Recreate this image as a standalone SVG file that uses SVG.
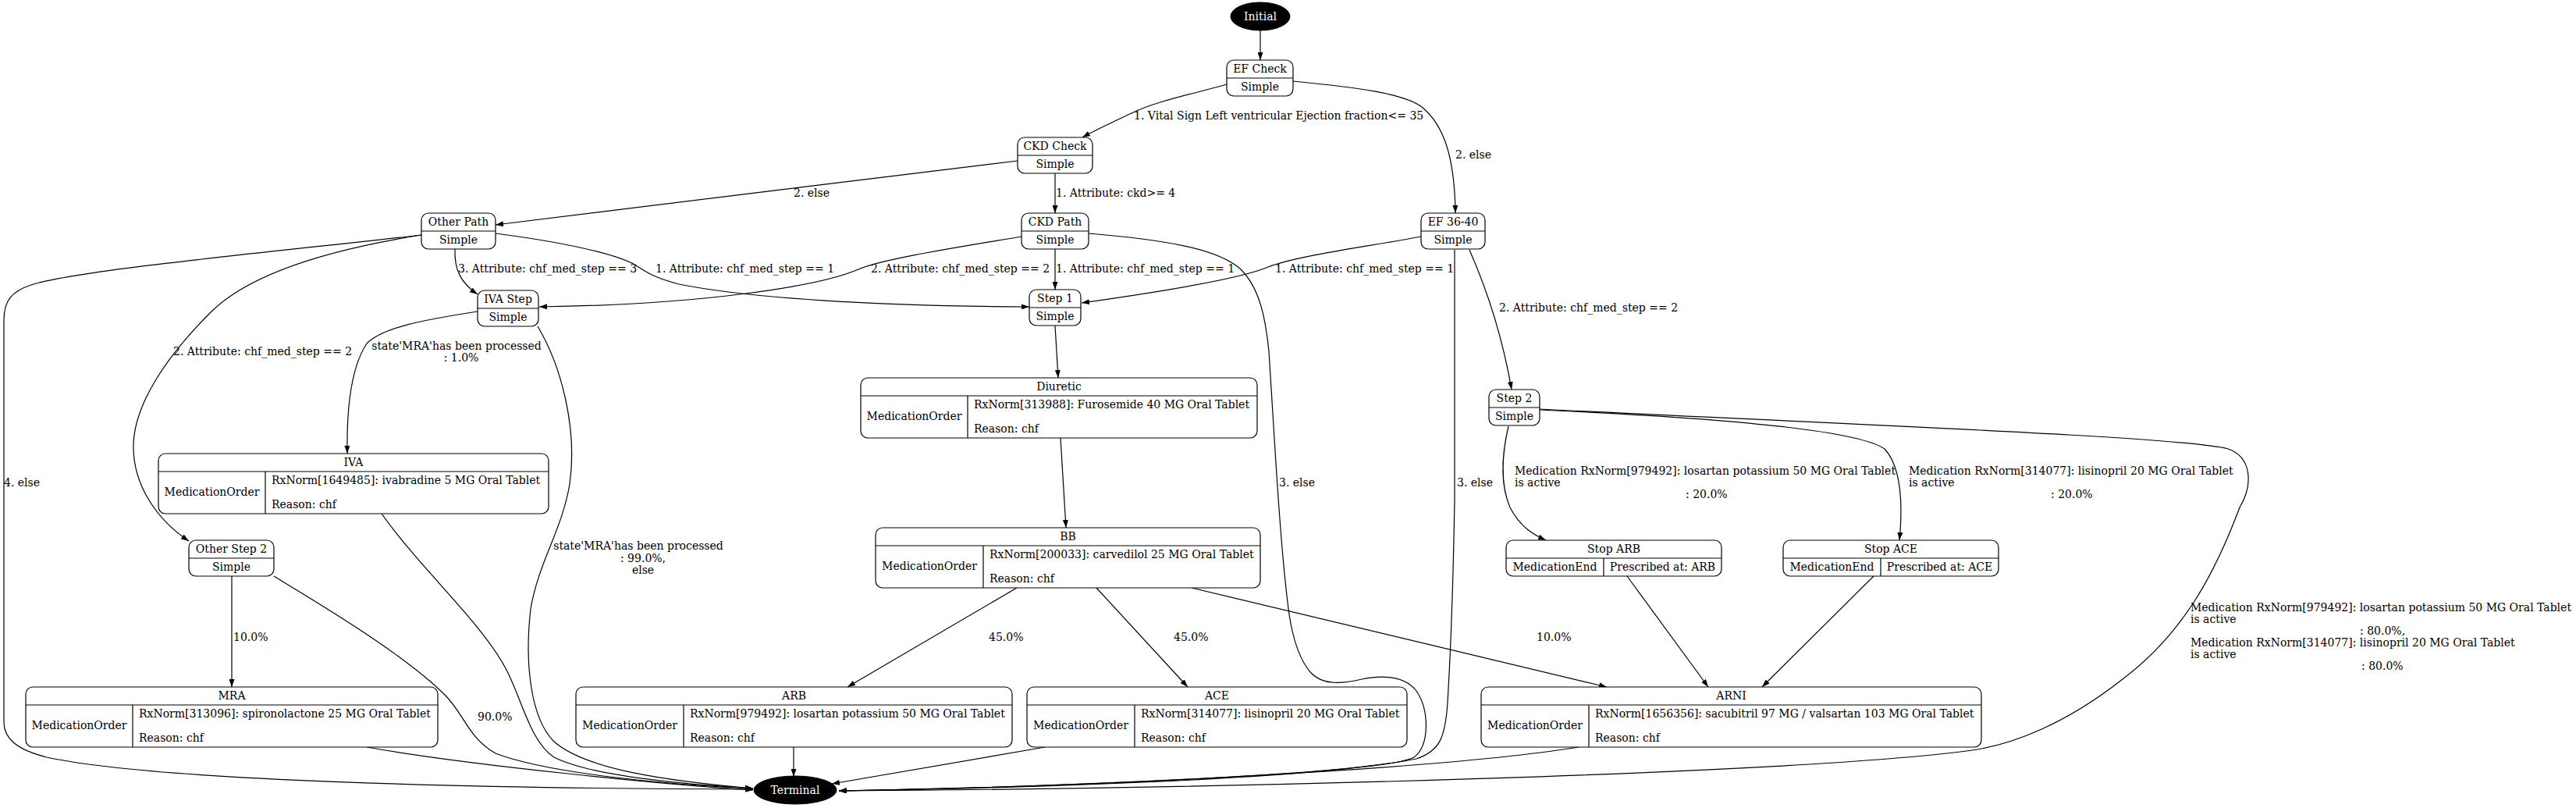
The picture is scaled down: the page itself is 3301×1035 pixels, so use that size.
<svg xmlns="http://www.w3.org/2000/svg" width="3301" height="1035" viewBox="0 0 3301 1035">
<style>
text { font-family: "DejaVu Serif", "Liberation Serif", serif; font-size: 14px; fill: #000; }
.c { text-anchor: middle; }
.w { fill: #fff; }
.n rect { fill: #fff; stroke: #000; stroke-width: 1.2; }
.n line { stroke: #000; stroke-width: 1.2; }
.n ellipse { fill: #000; stroke: #000; }
.e path { fill: none; stroke: #000; stroke-width: 1.2; marker-end: url(#arr); }
</style>
<defs>
<marker id="arr" viewBox="0 0 10 7" refX="10" refY="3.5" markerWidth="10" markerHeight="7" markerUnits="userSpaceOnUse" orient="auto">
<path d="M0,0 L10,3.5 L0,7 z" fill="#000"/>
</marker>
</defs>
<rect width="3301" height="1035" fill="#fff"/>

<g id="edges" class="e">
<path d="M1615,39 L1615,77"/>
<path d="M1572,108 C1530,120 1480,130 1450,145 C1425,157 1405,166 1387,176"/>
<path d="M1657,104 C1740,112 1800,120 1822,137 C1850,160 1864,200 1865,273"/>
<path d="M1352,222 L1352,273"/>
<path d="M1304,206 C1100,230 850,262 635,288"/>
<path d="M1352,319 L1352,371"/>
<path d="M1309,303 C1220,318 1130,332 1100,345 C1070,358 1020,368 948,377 C860,388 770,392 691,393"/>
<path d="M1395,299 C1490,307 1560,318 1590,345 C1615,370 1622,410 1626,450 C1632,540 1640,700 1652,787 C1657,820 1665,845 1680,862 C1695,878 1720,876 1745,870 C1775,864 1800,866 1815,885 C1832,910 1832,955 1812,970 C1780,988 1450,1006 1075,1013"/>
<path d="M1821,303 C1740,318 1660,328 1625,342 C1595,355 1500,372 1386,388"/>
<path d="M1864,320 L1864,640 C1862,760 1858,850 1855,900 C1852,945 1845,962 1815,972 C1700,995 1400,1008 1075,1013"/>
<path d="M1883,320 C1905,370 1925,430 1937,499"/>
<path d="M635,299 C720,310 790,325 815,340 C830,350 840,356 870,364 C960,382 1120,392 1319,393"/>
<path d="M583,319 C582,345 590,362 612,377"/>
<path d="M540,301 C420,320 320,350 270,400 C210,460 172,520 171,570 C170,620 200,665 242,693"/>
<path d="M540,301 C380,320 100,345 40,365 C15,373 5,385 5,410 L5,925 C5,945 20,960 60,970 C200,1000 600,1010 965,1011"/>
<path d="M612,399 C540,410 490,420 470,440 C450,470 444,520 445,581"/>
<path d="M689,418 C720,470 740,550 730,620 C720,680 690,720 680,780 C672,850 680,920 710,950 C750,985 850,1000 965,1010"/>
<path d="M489,658 C540,730 620,800 650,860 C670,900 680,950 710,970 C760,995 880,1005 965,1010"/>
<path d="M297,738 L297,880"/>
<path d="M351,738 C420,780 520,840 570,890 C595,915 600,945 635,965 C700,990 850,1005 965,1010"/>
<path d="M470,957 C600,980 850,1005 965,1012"/>
<path d="M1352,417 L1356,484"/>
<path d="M1359,561 L1366,676"/>
<path d="M1303,753 L1086,880"/>
<path d="M1405,753 L1522,880"/>
<path d="M1527,753 L2059,880"/>
<path d="M1017,957 L1017,995"/>
<path d="M1339,957 L1066,1004"/>
<path d="M2023,957 C1850,985 1400,1008 1075,1013"/>
<path d="M1933,546 C1925,580 1922,620 1935,650 C1948,675 1965,685 1981,692"/>
<path d="M1973,525 C2200,535 2380,550 2415,575 C2438,600 2438,650 2434,692"/>
<path d="M1973,524 C2400,545 2800,560 2855,575 C2885,585 2888,620 2870,650 C2840,730 2800,810 2720,870 C2650,925 2580,955 2520,962 C2300,990 1600,1010 1075,1013"/>
<path d="M2085,738 L2189,880"/>
<path d="M2401,738 L2258,880"/>
</g>

<g id="edge-labels">
<text x="1453" y="153">1. Vital Sign Left ventricular Ejection fraction&lt;= 35</text>
<text x="1865" y="203">2. else</text>
<text x="1353" y="252">1. Attribute: ckd&gt;= 4</text>
<text x="1017" y="252">2. else</text>
<text x="1353" y="349">1. Attribute: chf_med_step == 1</text>
<text x="1116" y="349">2. Attribute: chf_med_step == 2</text>
<text x="840" y="349">1. Attribute: chf_med_step == 1</text>
<text x="587" y="349">3. Attribute: chf_med_step == 3</text>
<text x="1634" y="349">1. Attribute: chf_med_step == 1</text>
<text x="1921" y="399">2. Attribute: chf_med_step == 2</text>
<text x="222" y="455">2. Attribute: chf_med_step == 2</text>
<text x="585" y="448" class="c">state'MRA'has been processed</text>
<text x="591" y="463" class="c">: 1.0%</text>
<text x="1639" y="623">3. else</text>
<text x="1867" y="623">3. else</text>
<text x="5" y="623">4. else</text>
<text x="1941" y="608">Medication RxNorm[979492]: losartan potassium 50 MG Oral Tablet</text>
<text x="1941" y="623">is active</text>
<text x="2160" y="638">: 20.0%</text>
<text x="2446" y="608">Medication RxNorm[314077]: lisinopril 20 MG Oral Tablet</text>
<text x="2446" y="623">is active</text>
<text x="2628" y="638">: 20.0%</text>
<text x="818" y="704" class="c">state'MRA'has been processed</text>
<text x="824" y="720" class="c">: 99.0%,</text>
<text x="824" y="735" class="c">else</text>
<text x="299" y="821">10.0%</text>
<text x="1267" y="821">45.0%</text>
<text x="1504" y="821">45.0%</text>
<text x="1969" y="821">10.0%</text>
<text x="612" y="923">90.0%</text>
<text x="2807" y="783">Medication RxNorm[979492]: losartan potassium 50 MG Oral Tablet</text>
<text x="2807" y="798">is active</text>
<text x="3024" y="813">: 80.0%,</text>
<text x="2807" y="828">Medication RxNorm[314077]: lisinopril 20 MG Oral Tablet</text>
<text x="2807" y="843">is active</text>
<text x="3026" y="858">: 80.0%</text>
</g>

<g id="initial" class="n">
<ellipse cx="1615" cy="21" rx="38" ry="18"/>
<text x="1615" y="26" class="c w">Initial</text>
</g>
<g id="terminal" class="n">
<ellipse cx="1019" cy="1012" rx="53" ry="18"/>
<text x="1019" y="1017" class="c w">Terminal</text>
</g>

<g id="ef_check" class="n">
<rect x="1572" y="77" width="85" height="46" rx="9"/>
<line x1="1572" y1="100" x2="1657" y2="100"/>
<text x="1614.5" y="93" class="c">EF Check</text>
<text x="1614.5" y="116" class="c">Simple</text>
</g>
<g id="ckd_check" class="n">
<rect x="1304" y="176" width="96" height="46" rx="9"/>
<line x1="1304" y1="199" x2="1400" y2="199"/>
<text x="1352" y="192" class="c">CKD Check</text>
<text x="1352" y="215" class="c">Simple</text>
</g>
<g id="other_path" class="n">
<rect x="540" y="273" width="95" height="46" rx="9"/>
<line x1="540" y1="296" x2="635" y2="296"/>
<text x="587.5" y="289" class="c">Other Path</text>
<text x="587.5" y="312" class="c">Simple</text>
</g>
<g id="ckd_path" class="n">
<rect x="1309" y="273" width="86" height="46" rx="9"/>
<line x1="1309" y1="296" x2="1395" y2="296"/>
<text x="1352" y="289" class="c">CKD Path</text>
<text x="1352" y="312" class="c">Simple</text>
</g>
<g id="ef_36_40" class="n">
<rect x="1821" y="273" width="82" height="46" rx="9"/>
<line x1="1821" y1="296" x2="1903" y2="296"/>
<text x="1862" y="289" class="c">EF 36-40</text>
<text x="1862" y="312" class="c">Simple</text>
</g>
<g id="iva_step" class="n">
<rect x="612" y="372" width="78" height="46" rx="9"/>
<line x1="612" y1="395" x2="690" y2="395"/>
<text x="651" y="388" class="c">IVA Step</text>
<text x="651" y="411" class="c">Simple</text>
</g>
<g id="step_1" class="n">
<rect x="1319" y="371" width="66" height="46" rx="9"/>
<line x1="1319" y1="394" x2="1385" y2="394"/>
<text x="1352" y="387" class="c">Step 1</text>
<text x="1352" y="410" class="c">Simple</text>
</g>
<g id="step_2" class="n">
<rect x="1908" y="499" width="65" height="46" rx="9"/>
<line x1="1908" y1="522" x2="1973" y2="522"/>
<text x="1940.5" y="515" class="c">Step 2</text>
<text x="1940.5" y="538" class="c">Simple</text>
</g>
<g id="other_step_2" class="n">
<rect x="242" y="692" width="109" height="46" rx="9"/>
<line x1="242" y1="715" x2="351" y2="715"/>
<text x="296.5" y="708" class="c">Other Step 2</text>
<text x="296.5" y="731" class="c">Simple</text>
</g>

<g id="diuretic" class="n">
<rect x="1103" y="484" width="508" height="77" rx="9"/>
<line x1="1103" y1="507" x2="1611" y2="507"/>
<line x1="1240" y1="507" x2="1240" y2="561"/>
<text x="1357" y="500" class="c">Diuretic</text>
<text x="1171.5" y="538" class="c">MedicationOrder</text>
<text x="1248" y="523">RxNorm[313988]: Furosemide 40 MG Oral Tablet</text>
<text x="1248" y="554">Reason: chf</text>
</g>
<g id="bb" class="n">
<rect x="1122" y="676" width="493" height="77" rx="9"/>
<line x1="1122" y1="699" x2="1615" y2="699"/>
<line x1="1260" y1="699" x2="1260" y2="753"/>
<text x="1368.5" y="692" class="c">BB</text>
<text x="1191" y="730" class="c">MedicationOrder</text>
<text x="1268" y="715">RxNorm[200033]: carvedilol 25 MG Oral Tablet</text>
<text x="1268" y="746">Reason: chf</text>
</g>
<g id="iva" class="n">
<rect x="203" y="581" width="500" height="77" rx="9"/>
<line x1="203" y1="604" x2="703" y2="604"/>
<line x1="340" y1="604" x2="340" y2="658"/>
<text x="453" y="597" class="c">IVA</text>
<text x="271.5" y="635" class="c">MedicationOrder</text>
<text x="348" y="620">RxNorm[1649485]: ivabradine 5 MG Oral Tablet</text>
<text x="348" y="651">Reason: chf</text>
</g>
<g id="mra" class="n">
<rect x="33" y="880" width="528" height="77" rx="9"/>
<line x1="33" y1="903" x2="561" y2="903"/>
<line x1="170" y1="903" x2="170" y2="957"/>
<text x="297" y="896" class="c">MRA</text>
<text x="101.5" y="934" class="c">MedicationOrder</text>
<text x="178" y="919">RxNorm[313096]: spironolactone 25 MG Oral Tablet</text>
<text x="178" y="950">Reason: chf</text>
</g>
<g id="arb" class="n">
<rect x="738" y="880" width="559" height="77" rx="9"/>
<line x1="738" y1="903" x2="1297" y2="903"/>
<line x1="876" y1="903" x2="876" y2="957"/>
<text x="1017.5" y="896" class="c">ARB</text>
<text x="807" y="934" class="c">MedicationOrder</text>
<text x="884" y="919">RxNorm[979492]: losartan potassium 50 MG Oral Tablet</text>
<text x="884" y="950">Reason: chf</text>
</g>
<g id="ace" class="n">
<rect x="1316" y="880" width="487" height="77" rx="9"/>
<line x1="1316" y1="903" x2="1803" y2="903"/>
<line x1="1454" y1="903" x2="1454" y2="957"/>
<text x="1559.5" y="896" class="c">ACE</text>
<text x="1385" y="934" class="c">MedicationOrder</text>
<text x="1462" y="919">RxNorm[314077]: lisinopril 20 MG Oral Tablet</text>
<text x="1462" y="950">Reason: chf</text>
</g>
<g id="arni" class="n">
<rect x="1898" y="880" width="641" height="77" rx="9"/>
<line x1="1898" y1="903" x2="2539" y2="903"/>
<line x1="2036" y1="903" x2="2036" y2="957"/>
<text x="2218.5" y="896" class="c">ARNI</text>
<text x="1967" y="934" class="c">MedicationOrder</text>
<text x="2044" y="919">RxNorm[1656356]: sacubitril 97 MG / valsartan 103 MG Oral Tablet</text>
<text x="2044" y="950">Reason: chf</text>
</g>
<g id="stop_arb" class="n">
<rect x="1930" y="692" width="276" height="46" rx="9"/>
<line x1="1930" y1="715" x2="2206" y2="715"/>
<line x1="2055" y1="715" x2="2055" y2="738"/>
<text x="2068" y="708" class="c">Stop ARB</text>
<text x="1992.5" y="731" class="c">MedicationEnd</text>
<text x="2130.5" y="731" class="c">Prescribed at: ARB</text>
</g>
<g id="stop_ace" class="n">
<rect x="2285" y="692" width="276" height="46" rx="9"/>
<line x1="2285" y1="715" x2="2561" y2="715"/>
<line x1="2410" y1="715" x2="2410" y2="738"/>
<text x="2423" y="708" class="c">Stop ACE</text>
<text x="2347.5" y="731" class="c">MedicationEnd</text>
<text x="2485.5" y="731" class="c">Prescribed at: ACE</text>
</g>
</svg>
